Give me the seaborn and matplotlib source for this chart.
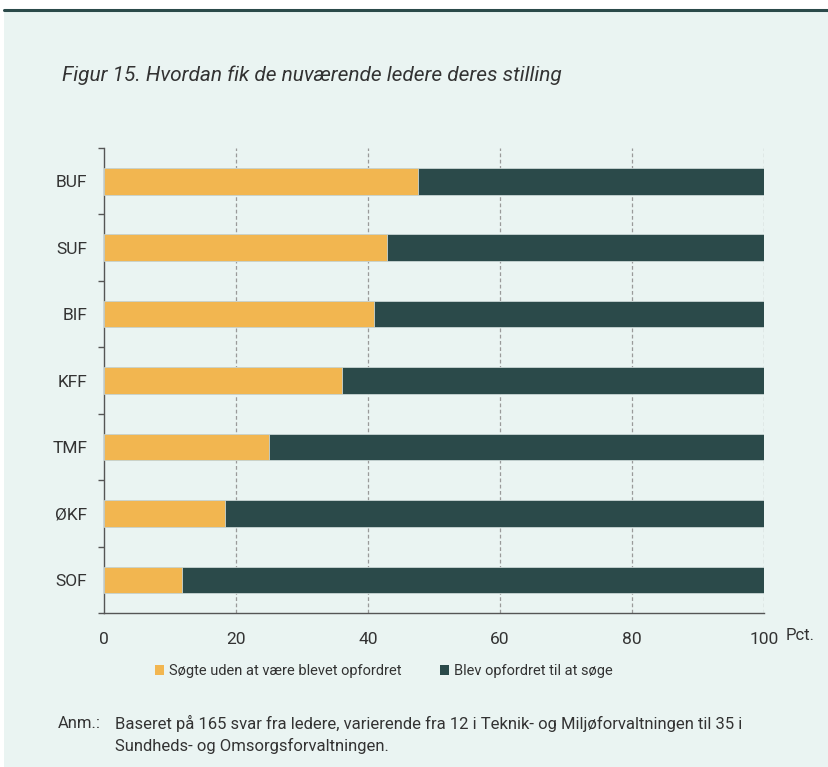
import matplotlib
matplotlib.use("Agg")
import matplotlib.pyplot as plt
import seaborn as sns
import pandas as pd
from matplotlib.patches import Rectangle
from matplotlib.lines import Line2D

categories = ["BUF", "SUF", "BIF", "KFF", "TMF", "ØKF", "SOF"]
sogte = [47.6, 42.9, 40.9, 36.1, 25.0, 18.3, 11.8]
opfordret = [52.4, 57.1, 59.1, 63.9, 75.0, 81.7, 88.2]
series_names = ["Søgte uden at være blevet opfordret", "Blev opfordret til at søge"]
xticks = [0, 20, 40, 60, 80, 100]

BG = "#EAF4F2"
ORANGE = "#F2B650"
DARK = "#2B4A4A"
TXT = "#333333"

sns.set_theme(style="white")
plt.rcParams["font.family"] = ["Roboto", "DejaVu Sans"]

df = pd.DataFrame({"cat": categories, "sogte": sogte, "opfordret": opfordret})
df["total"] = df["sogte"] + df["opfordret"]

fig = plt.figure(figsize=(8.29, 7.67), dpi=100)
fig.patch.set_facecolor("white")
fig.patches.append(Rectangle((4/829, 0), 1, 1 - 11/767, transform=fig.transFigure,
                             facecolor=BG, edgecolor="none", zorder=-10))
fig.add_artist(Line2D([4/829, 1], [1 - 10/767, 1 - 10/767], color=DARK, lw=2.2))

ax = fig.add_axes([104/829, 1 - 613/767, 660/829, 465/767])
ax.set_facecolor(BG)

sns.barplot(data=df, y="cat", x="total", color=DARK, width=0.4, orient="h",
            edgecolor="#C9D6D4", linewidth=0.6, ax=ax, saturation=1, zorder=2)
sns.barplot(data=df, y="cat", x="sogte", color=ORANGE, width=0.4, orient="h",
            edgecolor="#C9D6D4", linewidth=0.6, ax=ax, saturation=1, zorder=3)

ax.set_xlim(0, 100)
ax.set_ylim(len(categories) - 0.5, -0.5)
ax.set_xticks(xticks)
ax.set_xticklabels([str(t) for t in xticks], fontsize=12.5, color=TXT)
ax.set_xlabel("")
ax.set_ylabel("")
ax.tick_params(axis="x", length=0, pad=14)
ax.tick_params(axis="y", which="major", left=False, length=0, pad=12, labelsize=12.5, labelcolor=TXT)
ax.set_yticks([i + 0.5 for i in range(-1, len(categories))], minor=True)
ax.tick_params(axis="y", which="minor", left=True, length=4.5, width=1, color="#555555", direction="out")

for t in xticks[1:]:
    ax.axvline(t, color="#9a9a9a", lw=0.9, ls=(0, (3, 2)), zorder=1)

for s in ["top", "right"]:
    ax.spines[s].set_visible(False)
for s in ["left", "bottom"]:
    ax.spines[s].set_color("#555555")
    ax.spines[s].set_linewidth(1.0)

fig.text(786/829, 1 - 635/767, "Pct.", fontsize=12, color=TXT, ha="left", va="center")

fig.text(62/829, 1 - 75/767, "Figur 15. Hvordan fik de nuværende ledere deres stilling",
         fontsize=15, style="italic", color=TXT, ha="left", va="center")

handles = [Rectangle((0, 0), 1, 1, facecolor=ORANGE, edgecolor="none"),
           Rectangle((0, 0), 1, 1, facecolor=DARK, edgecolor="none")]
leg = fig.legend(handles, series_names, loc="center", bbox_to_anchor=(384/829, 1 - 671/767),
                 ncol=2, frameon=False, fontsize=10.5, handlelength=0.6, handleheight=0.7,
                 handletextpad=0.4, columnspacing=2.6)
for t in leg.get_texts():
    t.set_color(TXT)

fig.text(58/829, 1 - 723/767, "Anm.:", fontsize=12, color=TXT, ha="left", va="center")
fig.text(115/829, 1 - 723/767,
         "Baseret på 165 svar fra ledere, varierende fra 12 i Teknik- og Miljøforvaltningen til 35 i",
         fontsize=12, color=TXT, ha="left", va="center")
fig.text(115/829, 1 - 746/767, "Sundheds- og Omsorgsforvaltningen.",
         fontsize=12, color=TXT, ha="left", va="center")

fig.savefig("out.png", dpi=100, facecolor=fig.get_facecolor())
